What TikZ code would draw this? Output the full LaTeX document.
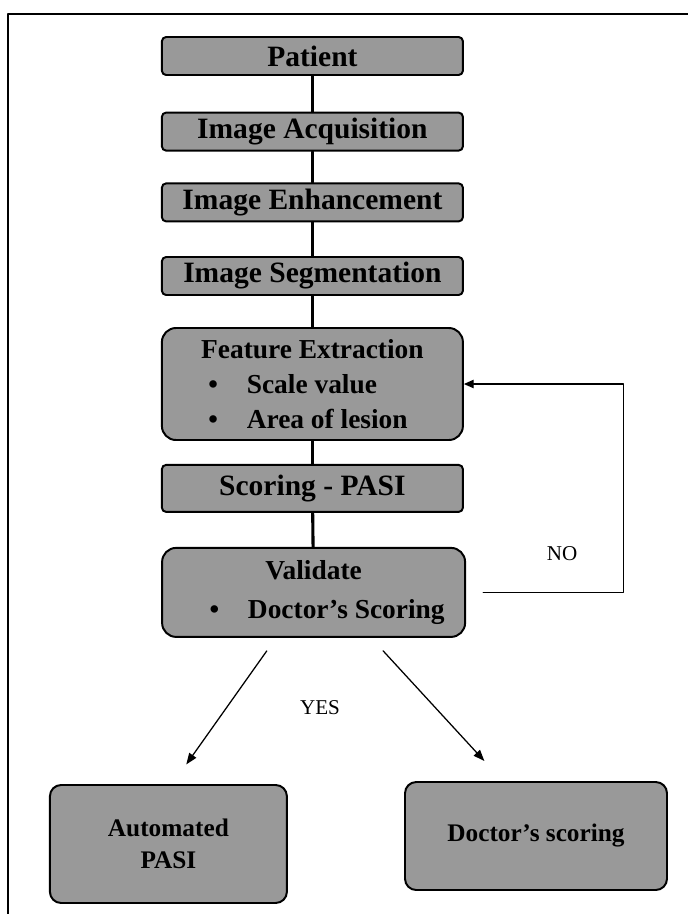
\documentclass[tikz,border=0pt]{standalone}
\usepackage{fontspec}
\setmainfont{Liberation Serif}
\usetikzlibrary{arrows.meta}

% one bullet line inside a box
\newcommand{\bulletitem}[1]{\makebox[6.2cm][l]{\hspace{0.5cm}\textbullet\hspace{0.72cm}#1}}

\begin{document}
\begin{tikzpicture}[line cap=round, line join=round,
  stepbox/.style={draw=black, line width=1.4pt, fill=black!40, rounded corners=3pt,
    minimum width=7.525cm, minimum height=0.95cm, inner sep=0pt,
    font=\fontsize{21}{25}\selectfont\bfseries, align=center},
  bigbox/.style={stepbox, rounded corners=10pt, font=\fontsize{19.5}{25}\selectfont\bfseries},
  endbox/.style={stepbox, rounded corners=8pt, font=\fontsize{18}{23}\selectfont\bfseries},
  link/.style={line width=2.2pt},
  feedback/.style={line width=0.8pt, -{Triangle[length=7pt, width=6pt]}},
  result/.style={line width=0.9pt, -{Triangle[length=8pt, width=6pt]}},
  answer/.style={font=\fontsize{15}{17}\selectfont}]

  % Khung trang
  \useasboundingbox (0,0) rectangle (17.2,-22.85);
  \draw[line width=1.3pt] (17.2,-0.35) -- (0.2,-0.35) -- (0.2,-22.85);

  % Cac buoc chinh
  \node[stepbox] (patient) at (7.81,-1.40) {Patient};
  \node[stepbox] (acq) at (7.81,-3.29) {Image Acquisition};
  \node[stepbox] (enh) at (7.81,-5.06) {Image Enhancement};
  \node[stepbox] (seg) at (7.81,-6.90) {Image Segmentation};
  \node[bigbox, minimum height=2.8cm] (feature) at (7.81,-9.60)
    {Feature Extraction\\\bulletitem{Scale value}\\\bulletitem{Area of lesion}};
  \node[stepbox, minimum height=1.175cm] (scoring) at (7.81,-12.21) {Scoring - PASI};
  \node[bigbox, minimum width=7.575cm, minimum height=2.225cm] (validate) at (7.84,-14.81)
    {Validate\\[3pt]\bulletitem{Doctor's Scoring}};

  % Ket qua
  \node[endbox, minimum width=5.925cm, minimum height=2.95cm] (auto) at (4.21,-21.10)
    {Automated\\PASI};
  \node[endbox, minimum width=6.55cm, minimum height=2.7cm] (doctor) at (13.4,-20.9)
    {Doctor's scoring};

  % Duong noi doc
  \foreach \a/\b in {patient/acq, acq/enh, enh/seg, seg/feature, feature/scoring, scoring/validate}
    \draw[link] (\a) -- (\b);

  % Vong lap NO
  \coordinate (loop) at (15.58,-14.81);
  \draw[feedback, shorten <=0.425cm] (validate.east) -- (loop) |- (feature.east);
  \node[answer] (no) at (14.05,-13.83) {NO};

  % Nhanh YES
  \draw[result, shorten <=0.4cm, shorten >=0.6cm] ([xshift=-0.94cm]validate.south) -- ([xshift=0.1cm]auto.north);
  \draw[result, shorten <=0.44cm, shorten >=0.68cm] ([xshift=1.44cm]validate.south) -- ([xshift=-0.83cm]doctor.north);
  \node[answer] (yes) at (8.0,-17.7) {YES};
\end{tikzpicture}
\end{document}
